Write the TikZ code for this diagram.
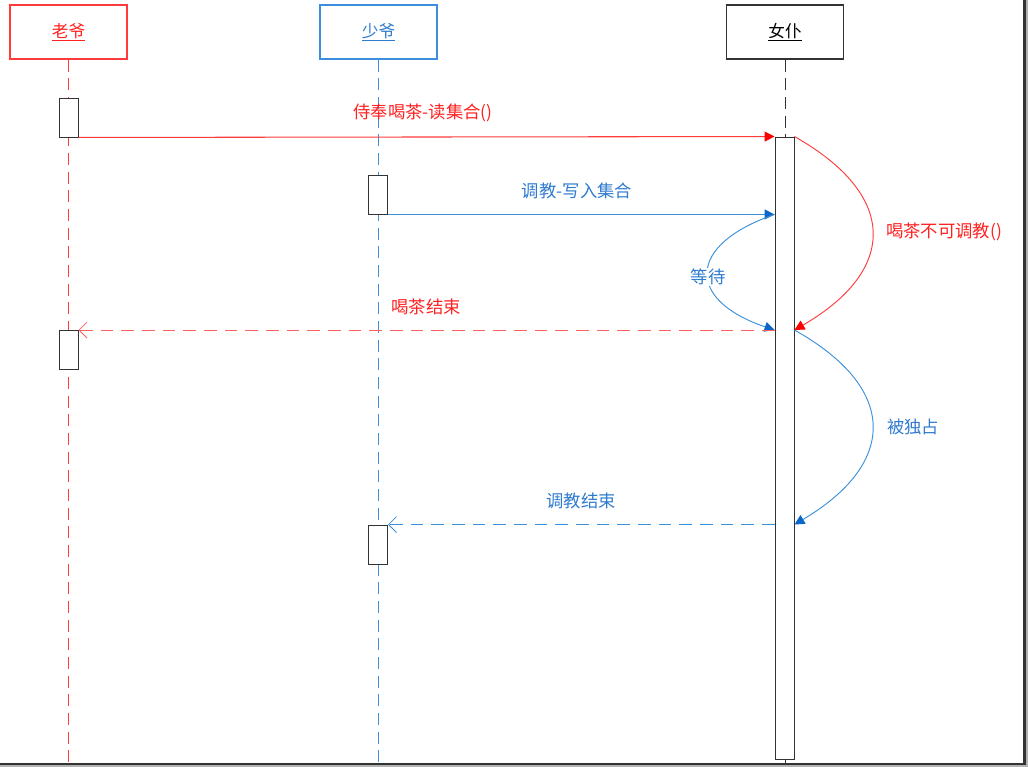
\documentclass[tikz,border=0pt]{standalone}
\usepackage{fontspec}
\setmainfont{Noto Sans CJK SC}
\usetikzlibrary{arrows.meta}
\definecolor{rd}{HTML}{FF3B3B}
\definecolor{rdl}{HTML}{FF6060}
\definecolor{rdtx}{HTML}{FF2020}
\definecolor{bl}{HTML}{3C8FDB}
\definecolor{bltx}{HTML}{2E7BCF}
\definecolor{blh}{HTML}{0A66C8}
\definecolor{dk}{HTML}{333333}
\begin{document}
\begin{tikzpicture}[x=0.75pt,y=-0.75pt,
  font=\fontsize{13pt}{15pt}\selectfont,
  actor/.style={draw, fill=white, minimum width=87.75pt, minimum height=40.5pt, inner sep=0pt, line width=0.8pt, font=\fontsize{12.5pt}{14pt}\selectfont},
  act/.style={draw=dk, fill=white, minimum width=14.25pt, minimum height=29.25pt, inner sep=0pt, line width=0.7pt},
  life/.style={line width=0.75pt, dash pattern=on 9pt off 5pt},
  msgdash/.style={line width=0.8pt, dash pattern=on 9.5pt off 6pt},
  redhead/.style={-{Triangle[length=7.5pt,width=7.5pt,color=red,fill=red]}},
  bluehead/.style={-{Triangle[length=7.5pt,width=7.5pt,color=blh,fill=blh]}},
  openhead/.style={-{Straight Barb[length=6pt,width=12pt,line width=0.6pt]}},
  lbl/.style={inner sep=1pt}
]
\useasboundingbox (0,0) rectangle (1028,767);
% frame shadow
\draw[gray!60, line width=3pt] (1026,0) -- (1026,766) -- (0,766);
\draw[dk, line width=1.6pt] (1024.5,0) -- (1024.5,764) -- (0,764);

% actors
\node[actor, draw=rd, text=rdtx] (lao) at (68.5,32) {\underline{老爷}};
\node[actor, draw=bl, text=bltx] (shao) at (378.5,32) {\underline{少爷}};
\node[actor, draw=dk, text=black] (nv) at (785,32) {\underline{女仆}};

% lifelines
\coordinate (laoEnd) at (68.5,763);
\coordinate (shaoEnd) at (378.5,763);
\coordinate (nvEnd) at (785,763);
\coordinate (nvTop) at (785,137);
\coordinate (nvBot) at (785,759);
\draw[life, rd] (lao.south) -- (laoEnd);
\draw[life, bl] (shao.south) -- (shaoEnd);
\draw[life, dk, line width=0.6pt] (nv.south) -- (nvTop);
\draw[dk, line width=0.6pt] (nvBot) -- (nvEnd);

% activations
\node[act] (a1) at (68.5,117.5) {};
\node[act] (s1) at (378,194.5) {};
\node[act] (a2) at (68.5,350) {};
\node[act] (s2) at (378,544.5) {};
\node[act, minimum height=466.5pt] (w) at (784.5,448) {};

% message 1
\draw[rd, line width=0.8pt, redhead] (a1.south east) -- (w.north west);
\node[lbl, text=rdtx] (m1) at (423,113) {侍奉喝茶-读集合()};

% message 2
\draw[bl, line width=0.8pt, bluehead] (s1.south east) -- (s1.south east -| w.west);
\node[lbl, text=bltx] (m2) at (577,191) {调教-写入集合};

% wait curve
\draw[bl, line width=0.7pt, bluehead] (s1.south east -| w.west) .. controls (686,245) and (686,300) .. (a2.north -| w.west);
\node[lbl, fill=white, text=bltx] (wait) at (708,277) {等待};

% message 4 (return, dashed red)
\draw[rdl, msgdash, openhead] (a2.north -| w.west) -- (a2.north east);
\node[lbl, text=rdtx] (m4) at (426,307) {喝茶结束};

% self curve red
\draw[rd, line width=0.7pt, redhead] (w.north east) .. controls (898,195) and (898,270) .. (a2.north -| w.east);
\node[lbl, text=rdtx] (m5) at (944,232) {喝茶不可调教()};

% self curve blue
\draw[bl, line width=0.7pt, bluehead] (a2.north -| w.east) .. controls (898,388) and (898,463) .. (s2.north -| w.east);
\node[lbl, text=bltx] (m6) at (913,427) {被独占};

% message 7 (return, dashed blue)
\draw[bl, msgdash, openhead] (s2.north -| w.west) -- (s2.north east);
\node[lbl, text=bltx] (m7) at (581,501) {调教结束};
\end{tikzpicture}
\end{document}
